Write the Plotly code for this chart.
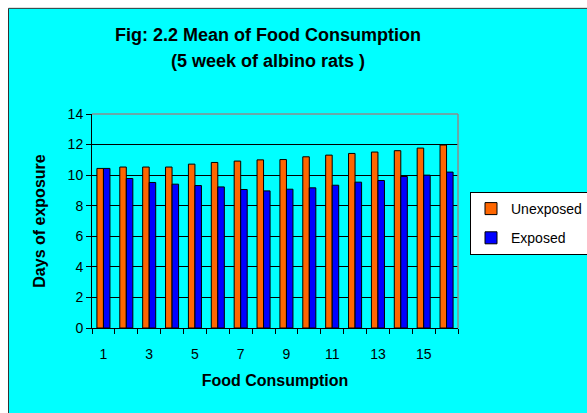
import plotly.graph_objects as go

categories = list(range(1, 17))
unexposed = [10.44, 10.53, 10.53, 10.53, 10.72, 10.83, 10.92, 11.0,
             11.02, 11.2, 11.31, 11.42, 11.51, 11.6, 11.77, 11.97]
exposed = [10.44, 9.78, 9.52, 9.41, 9.32, 9.23, 9.06, 8.97,
           9.08, 9.17, 9.34, 9.54, 9.65, 9.91, 10.0, 10.2]
xtick_vals = [1, 3, 5, 7, 9, 11, 13, 15]
ytick_vals = [0, 2, 4, 6, 8, 10, 12, 14]

W, H = 587, 413
L, R, T, B = 92, 458, 114, 327.7
pw, ph = R - L, B - T

font = "Liberation Sans, Arial, sans-serif"

fig = go.Figure()
fig.add_trace(go.Bar(x=categories, y=unexposed, name="Unexposed", legendgroup="a",
                     marker=dict(color="#FF6600", line=dict(color="black", width=1))))
fig.add_trace(go.Bar(x=categories, y=exposed, name="Exposed", legendgroup="b",
                     marker=dict(color="#0000FF", line=dict(color="black", width=1))))

def px_x(p):
    return (p - L) / pw

def px_y(p):
    return 1 - (p - T) / ph

shapes = [
    dict(type="rect", xref="paper", yref="paper", layer="below",
         x0=px_x(8.5), x1=px_x(W + 5), y0=px_y(H + 5), y1=px_y(8.5),
         fillcolor="#00FFFF", line=dict(color="#333333", width=1)),
    dict(type="line", xref="paper", yref="paper", layer="above",
         x0=0, x1=1, y0=1, y1=1, line=dict(color="#8C8C8C", width=1.5)),
    dict(type="line", xref="paper", yref="paper", layer="above",
         x0=1, x1=1, y0=0, y1=1, line=dict(color="#8C8C8C", width=1.5)),
]

annotations = [
    dict(text="<b>Fig: 2.2 Mean of Food Consumption</b>", xref="paper", yref="paper",
         x=px_x(268), y=px_y(35), xanchor="center", yanchor="middle",
         showarrow=False, font=dict(size=18, family=font)),
    dict(text="<b>(5 week of albino rats )</b>", xref="paper", yref="paper",
         x=px_x(268), y=px_y(61), xanchor="center", yanchor="middle",
         showarrow=False, font=dict(size=18, family=font)),
]

fig.update_layout(
    width=W, height=H,
    margin=dict(l=L, r=W - R, t=T, b=H - B, pad=0),
    paper_bgcolor="white",
    plot_bgcolor="#00FFFF",
    barmode="group", bargap=0.43, bargroupgap=0,
    font=dict(family=font, color="black", size=14),
    shapes=shapes,
    annotations=annotations,
    showlegend=True,
    legend=dict(xref="container", yref="container",
                x=470 / W, y=1 - 192 / H, xanchor="left", yanchor="top",
                bgcolor="white", bordercolor="black", borderwidth=1,
                font=dict(size=14, family=font),
                itemwidth=30, traceorder="grouped", tracegroupgap=8),
)

fig.update_xaxes(
    range=[0.5, 16.5], tickmode="array", tickvals=xtick_vals,
    ticks="", showgrid=False, zeroline=False,
    showline=True, linecolor="black", linewidth=1,
    ticklabelstandoff=13,
    tickfont=dict(size=14),
    minor=dict(tickmode="linear", tick0=0.5, dtick=1, ticks="outside",
               ticklen=5, tickcolor="black", tickwidth=1, showgrid=False),
    title=dict(text="<b>Food Consumption</b>", font=dict(size=16), standoff=14),
)
fig.update_yaxes(
    range=[0, 14], tickmode="array", tickvals=ytick_vals,
    ticks="outside", ticklen=5, tickcolor="black",
    showgrid=True, gridcolor="black", gridwidth=1, zeroline=False,
    showline=True, linecolor="black", linewidth=1,
    tickfont=dict(size=14),
    title=dict(text="<b>Days of exposure</b>", font=dict(size=16), standoff=18),
)

fig.write_html("out.html")
